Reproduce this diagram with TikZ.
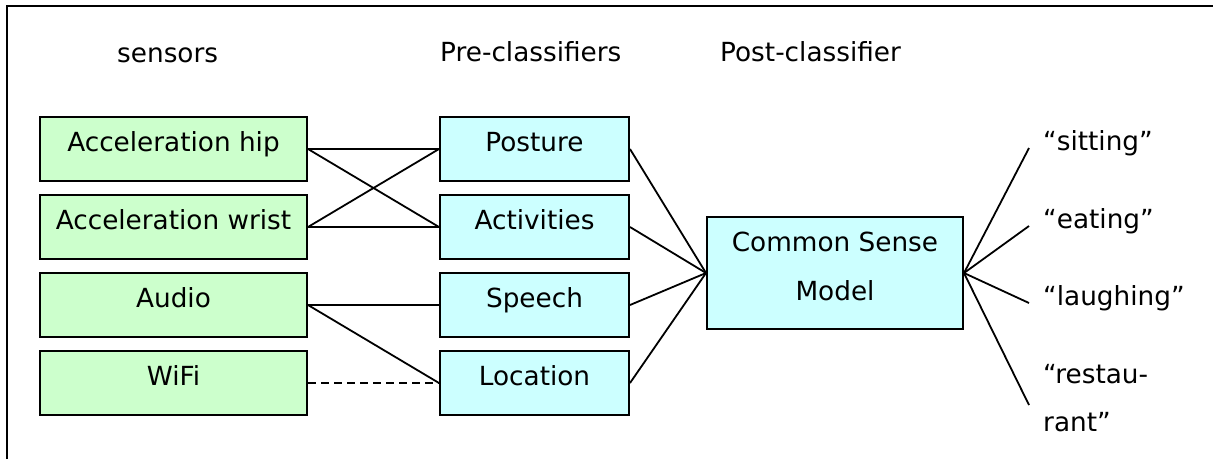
\documentclass[tikz,border=0pt]{standalone}
\usepackage{fontspec}
\setmainfont{DejaVu Sans}
\usetikzlibrary{positioning}
\definecolor{sensorgreen}{HTML}{CCFFCC}
\definecolor{precyan}{HTML}{CCFFFF}
\tikzset{
  lbl/.style={font=\fontsize{26.3}{48.5}\selectfont,text height=18.5pt,text depth=14pt},
  sensor/.style={lbl,rectangle,draw=black,fill=sensorgreen,line width=2pt,
    minimum width=267pt,minimum height=64pt,inner sep=0pt},
  precls/.style={sensor,fill=precyan,minimum width=189pt},
  model/.style={precls,minimum width=256pt,minimum height=112pt,align=center,text height={}},
  outcome/.style={lbl,anchor=west,inner xsep=14pt,inner ysep=0pt},
  heading/.style={lbl,anchor=base west,inner sep=0pt},
  link/.style={line width=1.8pt}
}

\begin{document}
\begin{tikzpicture}[x=1pt,y=-1pt,node distance=12pt]
\useasboundingbox (0,0) rectangle (1213,459);
\draw[line width=2.2pt] (7,459) -- (7,6) -- (1213,6);
\node[heading] (hsens) at (117,62) {sensors};
\node[heading] (hpre) at (440,61) {Pre-classifiers};
\node[heading] (hpost) at (720,61) {Post-classifier};
\node[sensor] (hip) at (173.5,149) {Acceleration hip};
\node[sensor,below=of hip] (wrist) {Acceleration wrist};
\node[sensor,below=of wrist] (audio) {Audio};
\node[sensor,below=of audio] (wifi) {WiFi};
\node[precls,right=131pt of hip] (posture) {Posture};
\node[precls,below=of posture] (activities) {Activities};
\node[precls,below=of activities] (speech) {Speech};
\node[precls,below=of speech] (location) {Location};
\node[model] (csm) at (835,273) {Common Sense\\Model};
\node[outcome] (sitting) at (1029,148) {“sitting”};
\node[outcome] (eating) at (1029,226) {“eating”};
\node[outcome] (laughing) at (1029,303) {“laughing”};
\node[outcome,align=left,text height={}] (restaurant) at (1029,405) {“restau-\\rant”};
\draw[link] (hip.east) -- (posture.west);
\draw[link] (hip.east) -- (activities.west);
\draw[link] (wrist.east) -- (posture.west);
\draw[link] (wrist.east) -- (activities.west);
\draw[link] (audio.east) -- (speech.west);
\draw[link] (audio.east) -- (location.west);
\draw[link,dash pattern=on 8pt off 5pt] (wifi.east) -- (location.west);
\foreach \p in {posture,activities,speech,location}
  \draw[link] (\p.east) -- (csm.west);
\foreach \o in {sitting,eating,laughing,restaurant}
  \draw[link] (csm.east) -- (\o.west);
\end{tikzpicture}
\end{document}
